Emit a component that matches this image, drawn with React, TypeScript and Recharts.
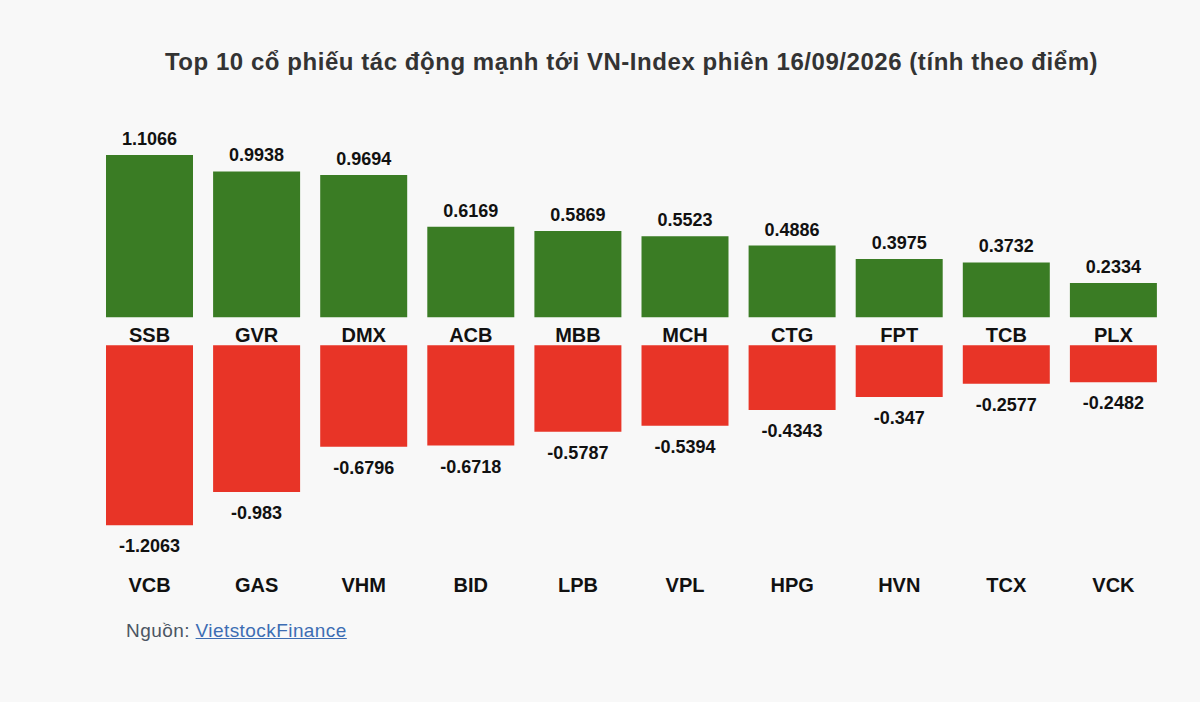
import { Bar, BarChart, LabelList, XAxis, YAxis } from "recharts"

const topCodes = ["SSB", "GVR", "DMX", "ACB", "MBB", "MCH", "CTG", "FPT", "TCB", "PLX"]
const topValues = [1.1066, 0.9938, 0.9694, 0.6169, 0.5869, 0.5523, 0.4886, 0.3975, 0.3732, 0.2334]
const bottomCodes = ["VCB", "GAS", "VHM", "BID", "LPB", "VPL", "HPG", "HVN", "TCX", "VCK"]
const bottomValues = [-1.2063, -0.983, -0.6796, -0.6718, -0.5787, -0.5394, -0.4343, -0.347, -0.2577, -0.2482]

const title = "Top 10 cổ phiếu tác động mạnh tới VN-Index phiên 16/09/2026 (tính theo điểm)"
const GREEN = "#3a7c24"
const RED = "#e83427"
const FONT = '"Liberation Sans", Arial, Helvetica, sans-serif'

const topData = topCodes.map((code, i) => ({ code, value: topValues[i] }))
const bottomData = bottomCodes.map((code, i) => ({ code, value: bottomValues[i] }))

function box(props: any) {
  const vb = props.viewBox ?? props
  const top = Math.min(vb.y, vb.y + vb.height)
  const bottom = Math.max(vb.y, vb.y + vb.height)
  return { cx: vb.x + vb.width / 2, top, bottom }
}

const TopLabel = (props: any) => {
  const { cx, top } = box(props)
  return (
    <text x={cx} y={top - 10} textAnchor="middle" fontSize={18} fontWeight={700} fill="#111" fontFamily={FONT}>
      {String(props.value)}
    </text>
  )
}

const BottomLabel = (props: any) => {
  const { cx, bottom } = box(props)
  return (
    <text x={cx} y={bottom + 27} textAnchor="middle" fontSize={18} fontWeight={700} fill="#111" fontFamily={FONT}>
      {String(props.value)}
    </text>
  )
}

const makeTick = (dy: number) => (props: any) => {
  const { x, y, payload } = props
  return (
    <text x={x} y={y + dy} textAnchor="middle" fontSize={20} fontWeight={700} fill="#111" fontFamily={FONT}>
      {payload.value}
    </text>
  )
}

export default function App() {
  return (
    <div
      style={{
        position: "absolute",
        left: 0,
        top: 0,
        width: 1200,
        height: 702,
        background: "#f8f8f8",
        fontFamily: FONT,
        overflow: "hidden",
      }}
    >
      <div
        style={{
          position: "absolute",
          left: 0,
          top: 48,
          width: 1263,
          textAlign: "center",
          fontSize: 24,
          fontWeight: 700,
          letterSpacing: 0.55,
          color: "#333",
          whiteSpace: "nowrap",
        }}
      >
        {title}
      </div>

      <div style={{ position: "absolute", left: 0, top: 100 }}>
        <BarChart width={1200} height={250} data={topData} margin={{ top: 41.2, right: 33, bottom: 0, left: 96 }}>
          <XAxis dataKey="code" axisLine={false} tickLine={false} interval={0} height={32.8} tick={makeTick(16.5)} />
          <YAxis hide domain={[0, 1.2]} />
          <Bar dataKey="value" fill={GREEN} barSize={87} isAnimationActive={false}>
            <LabelList dataKey="value" content={TopLabel} />
          </Bar>
        </BarChart>
      </div>

      <div style={{ position: "absolute", left: 0, top: 300 }}>
        <BarChart width={1200} height={320} data={bottomData} margin={{ top: 45.3, right: 33, bottom: 0, left: 96 }}>
          <XAxis dataKey="code" axisLine={false} tickLine={false} interval={0} height={50.9} tick={makeTick(15.2)} />
          <YAxis hide domain={[-1.5, 0]} />
          <Bar dataKey="value" fill={RED} barSize={87} isAnimationActive={false}>
            <LabelList dataKey="value" content={BottomLabel} />
          </Bar>
        </BarChart>
      </div>

      <div
        style={{
          position: "absolute",
          left: 126,
          top: 619.5,
          fontSize: 19,
          letterSpacing: 0.43,
          color: "#4b5563",
          whiteSpace: "nowrap",
        }}
      >
        Nguồn:{" "}
        <a href="#" style={{ color: "#3d6db3", textDecoration: "underline" }}>
          VietstockFinance
        </a>
      </div>
    </div>
  )
}
